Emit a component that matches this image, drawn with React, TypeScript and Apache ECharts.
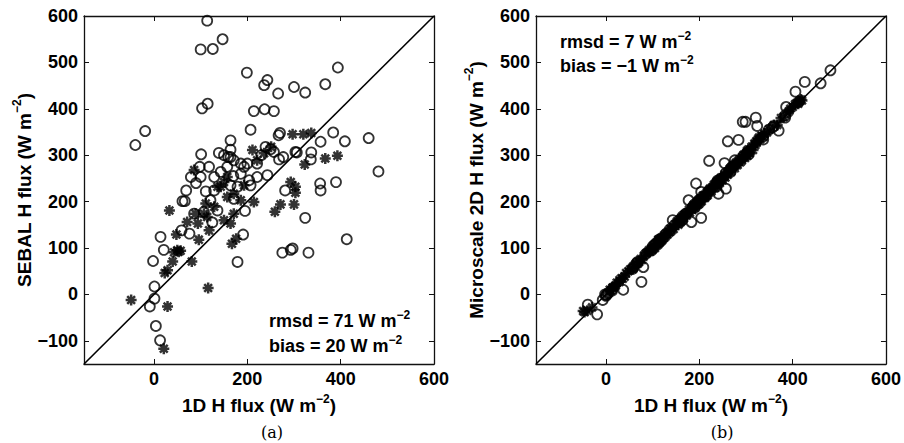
import React, { useEffect, useRef } from "react";
import * as echarts from "echarts";

const xTicks = [0, 200, 400, 600];
const yTicks = [-100, 0, 100, 200, 300, 400, 500, 600];
const axisMin = -150;
const axisMax = 600;
const oneToOne = [[-150, -150], [600, 600]];

const xTitle = "1D H flux (W m{sup|−2})";
const yTitleA = "SEBAL H flux (W m{sup|−2})";
const yTitleB = "Microscale 2D H flux (W m{sup|−2})";
const statsA = ["rmsd = 71 W m{sup|−2}", "bias = 20 W m{sup|−2}"];
const statsB = ["rmsd = 7 W m{sup|−2}", "bias = −1 W m{sup|−2}"];
const panelLabels = ["(a)", "(b)"];

// Panel (a): SEBAL vs 1D
const aCircles = [
  [114, 590], [100, 528], [126, 529], [147, 550], [199, 478], [243, 462], [236, 451], [266, 433],
  [300, 447], [324, 435], [367, 453], [394, 489], [103, 401], [115, 411], [214, 395], [237, 399],
  [257, 395], [-19, 352], [-40, 322], [207, 355], [164, 332], [267, 343], [270, 348], [384, 349],
  [409, 330], [460, 337], [357, 329], [337, 306], [336, 291], [101, 302], [139, 305], [164, 312],
  [159, 296], [303, 307], [306, 306], [481, 265], [356, 239], [357, 224], [390, 242], [281, 224],
  [324, 165], [413, 119], [275, 90], [293, 96], [297, 99], [331, 90], [179, 70], [191, 129],
  [14, 124], [21, 96], [-2, 72], [1, 17], [1, -9], [-9, -26], [4, -68], [13, -99],
  [69, 224], [61, 201], [66, 201], [59, 138], [76, 131], [79, 253], [98, 275], [118, 275],
  [100, 253], [129, 253], [143, 264], [111, 222], [121, 203], [129, 224], [136, 181], [86, 174],
  [107, 178], [164, 296], [171, 289], [186, 282], [200, 282], [186, 260], [204, 246], [207, 235],
  [221, 253], [243, 257], [239, 318], [250, 313], [257, 307], [268, 291], [277, 296], [195, 180],
  [164, 235], [171, 206], [179, 232], [157, 275], [193, 275], [221, 282], [150, 300], [170, 255],
  [230, 300], [90, 240], [125, 155],
];
const aStars = [
  [-49, -12], [29, -26], [21, -117], [116, 14], [23, 46], [29, 52], [40, 71], [81, 71],
  [43, 91], [57, 94], [50, 95], [53, 92], [48, 129], [33, 181], [96, 118], [118, 138],
  [86, 268], [89, 174], [94, 153], [107, 174], [111, 196], [114, 167], [143, 232], [150, 160],
  [164, 153], [171, 174], [167, 109], [176, 120], [214, 199], [211, 311], [221, 289], [236, 304],
  [251, 318], [297, 345], [320, 345], [337, 348], [323, 280], [367, 293], [393, 299], [293, 242],
  [303, 232], [303, 219], [300, 194], [271, 194], [259, 178], [157, 210], [171, 217], [193, 235],
  [136, 232], [129, 189], [71, 156], [150, 242], [157, 253], [186, 203],
];

// Panel (b): Microscale 2D vs 1D
const bCircles = [
  [481, 483], [460, 455], [426, 458], [406, 437], [386, 404], [384, 381], [360, 363], [370, 353],
  [349, 355], [321, 381], [299, 372], [293, 372], [324, 363], [284, 333], [261, 330], [221, 288],
  [254, 283], [276, 289], [193, 239], [204, 221], [177, 203], [241, 217], [257, 228], [183, 156],
  [143, 160], [204, 165], [76, 27], [80, 59], [68, 70], [37, 10], [-7, -12], [-19, -43],
  [-39, -22], [57, 55],
  [0, -3], [4, 2], [13, 8], [14, 12], [1, -1], [59, 60], [66, 68], [86, 88],
  [98, 95], [100, 103], [101, 99], [103, 106], [107, 110], [111, 108], [114, 118], [115, 113],
  [118, 121], [121, 120], [126, 124], [129, 131], [136, 139], [139, 137], [147, 150], [157, 160],
  [159, 156], [164, 168], [164, 161], [171, 174], [186, 189], [191, 188], [195, 198], [199, 203],
  [200, 197], [207, 210], [214, 212], [221, 224], [236, 240], [237, 233], [239, 245], [243, 247],
  [257, 262], [267, 264], [268, 272], [270, 275], [275, 279], [293, 297], [303, 306], [306, 302],
  [336, 340], [337, 334], [357, 360], [384, 386], [413, 415], [-2, 0], [191, 195],
];
const bStars = [
  [-46, -38], [-49, -36], [21, 19], [23, 25], [29, 31], [40, 38], [43, 46], [57, 55],
  [48, 50], [33, 35], [71, 70], [81, 83], [86, 88], [89, 91], [94, 92], [96, 98],
  [107, 109], [111, 110], [114, 116], [116, 113], [118, 120], [129, 131], [136, 134], [143, 146],
  [150, 152], [157, 155], [164, 166], [167, 164], [171, 174], [176, 178], [186, 189], [193, 191],
  [211, 214], [214, 212], [221, 224], [236, 239], [251, 253], [259, 262], [271, 274], [293, 296],
  [297, 300], [300, 303], [303, 299], [303, 306], [320, 322], [323, 327], [337, 340], [367, 365],
  [393, 396], [29, 27], [183, 186], [200, 204], [228, 231], [245, 249], [263, 266], [283, 287],
  [310, 313], [330, 334], [405, 410], [415, 417], [418, 420], [380, 382], [345, 349],
  [105, 100], [112, 118], [120, 116], [125, 128], [132, 129], [138, 142], [145, 141], [152, 157],
  [155, 150], [160, 163], [162, 158], [168, 172], [173, 170], [178, 183], [180, 176], [185, 182],
  [188, 193], [190, 186], [196, 200], [198, 194], [203, 207], [205, 201], [208, 213], [212, 208],
  [216, 220], [218, 214], [223, 228], [226, 222], [231, 236], [233, 229], [238, 243], [240, 236],
  [244, 240], [247, 252], [250, 246], [254, 259], [256, 252], [261, 258], [265, 270], [268, 265],
  [273, 278], [276, 272], [279, 284], [282, 279], [286, 291], [288, 285], [291, 288], [295, 301],
  [298, 294], [302, 309], [305, 312], [308, 304], [312, 318], [315, 311], [318, 325], [322, 330],
  [326, 335], [328, 338], [333, 342], [60, 58], [64, 66], [68, 66], [74, 76], [77, 74],
  [92, 95], [99, 97], [10, 8], [14, 15], [5, 3], [17, 16], [8, 10], [36, 34],
  [52, 54], [-30, -28], [-40, -35], [395, 400], [400, 404], [408, 412], [412, 411], [420, 418],
  [390, 392], [375, 380], [360, 365], [350, 356], [340, 346],
];

const FONT = "Liberation Sans";
const supStyle = { fontSize: 12, fontWeight: "bold", fontFamily: FONT, color: "#000", padding: [-7, 0, 7, 0] };
const statSupStyle = { fontSize: 12, fontWeight: "bold", fontFamily: FONT, fill: "#000", padding: [-6, 0, 6, 0] };
const starPath = "path://M0,-5L0,5M-5,0L5,0M-3.54,-3.54L3.54,3.54M-3.54,3.54L3.54,-3.54";
const minusFmt = (v: number) => String(v).replace("-", "−");

function xAxes(gridIndex: number) {
  const common = {
    type: "value",
    gridIndex,
    min: axisMin,
    max: axisMax,
    splitLine: { show: false },
    axisLine: { show: true, onZero: false, lineStyle: { color: "#111", width: 1.3 } },
    axisTick: { show: true, inside: true, length: 5, customValues: xTicks, lineStyle: { color: "#111", width: 1 } },
  };
  return [
    {
      ...common,
      position: "bottom",
      axisLabel: { show: true, customValues: xTicks, formatter: minusFmt, margin: 6, fontSize: 18, fontWeight: "bold", fontFamily: FONT, color: "#000" },
      name: xTitle,
      nameLocation: "middle",
      nameGap: 28,
      nameTextStyle: { fontSize: 19, fontWeight: "bold", fontFamily: FONT, color: "#000", rich: { sup: supStyle } },
    },
    { ...common, position: "top", axisLabel: { show: false } },
  ];
}

function yAxes(gridIndex: number, title: string) {
  const common = {
    type: "value",
    gridIndex,
    min: axisMin,
    max: axisMax,
    splitLine: { show: false },
    axisLine: { show: true, onZero: false, lineStyle: { color: "#111", width: 1.3 } },
    axisTick: { show: true, inside: true, length: 5, customValues: yTicks, lineStyle: { color: "#111", width: 1 } },
  };
  return [
    {
      ...common,
      position: "left",
      axisLabel: { show: true, customValues: yTicks, formatter: minusFmt, margin: 6, fontSize: 18, fontWeight: "bold", fontFamily: FONT, color: "#000" },
      name: title,
      nameLocation: "middle",
      nameGap: 42,
      nameTextStyle: { fontSize: 19, fontWeight: "bold", fontFamily: FONT, color: "#000", rich: { sup: supStyle } },
    },
    { ...common, position: "right", axisLabel: { show: false } },
  ];
}

function panelSeries(xi: number, yi: number, circles: number[][], stars: number[][]) {
  return [
    {
      type: "scatter",
      xAxisIndex: xi,
      yAxisIndex: yi,
      data: circles,
      symbol: "circle",
      symbolSize: 10,
      itemStyle: { color: "transparent", borderColor: "#000", borderWidth: 1.8 },
      silent: true,
    },
    {
      type: "scatter",
      xAxisIndex: xi,
      yAxisIndex: yi,
      data: stars,
      symbol: starPath,
      symbolSize: 11,
      itemStyle: { color: "transparent", borderColor: "#000", borderWidth: 2.5 },
      silent: true,
    },
    {
      type: "line",
      xAxisIndex: xi,
      yAxisIndex: yi,
      data: oneToOne,
      symbol: "none",
      lineStyle: { color: "#000", width: 1.6 },
      silent: true,
    },
  ];
}

function statText(text: string, x: number, y: number) {
  return {
    type: "text",
    x,
    y,
    style: {
      text,
      fontSize: 18,
      fontWeight: "bold",
      fontFamily: FONT,
      fill: "#000",
      lineHeight: 18,
      verticalAlign: "middle",
      align: "left",
      rich: { sup: statSupStyle },
    },
  };
}

export default function App() {
  const ref = useRef<HTMLDivElement>(null);
  useEffect(() => {
    if (!ref.current) return;
    const chart = echarts.init(ref.current, undefined, { renderer: "svg" });
    chart.setOption({
      animation: false,
      backgroundColor: "#fff",
      grid: [
        { left: 84, top: 16, width: 350, height: 348 },
        { left: 536, top: 16, width: 350, height: 348 },
      ],
      xAxis: [...xAxes(0), ...xAxes(1)],
      yAxis: [...yAxes(0, yTitleA), ...yAxes(1, yTitleB)],
      series: [...panelSeries(0, 0, aCircles, aStars), ...panelSeries(2, 2, bCircles, bStars)],
      graphic: [
        statText(statsA[0], 269, 321),
        statText(statsA[1], 269, 346),
        statText(statsB[0], 560, 42),
        statText(statsB[1], 560, 66),
        {
          type: "text",
          x: 272,
          y: 432,
          style: { text: panelLabels[0], fontSize: 16, fontFamily: "DejaVu Serif", fill: "#000", align: "center", verticalAlign: "middle" },
        },
        {
          type: "text",
          x: 722,
          y: 432,
          style: { text: panelLabels[1], fontSize: 16, fontFamily: "DejaVu Serif", fill: "#000", align: "center", verticalAlign: "middle" },
        },
      ],
    });
    return () => chart.dispose();
  }, []);
  return <div ref={ref} style={{ position: "fixed", left: 0, top: 0, width: 904, height: 443, background: "#fff" }} />;
}
